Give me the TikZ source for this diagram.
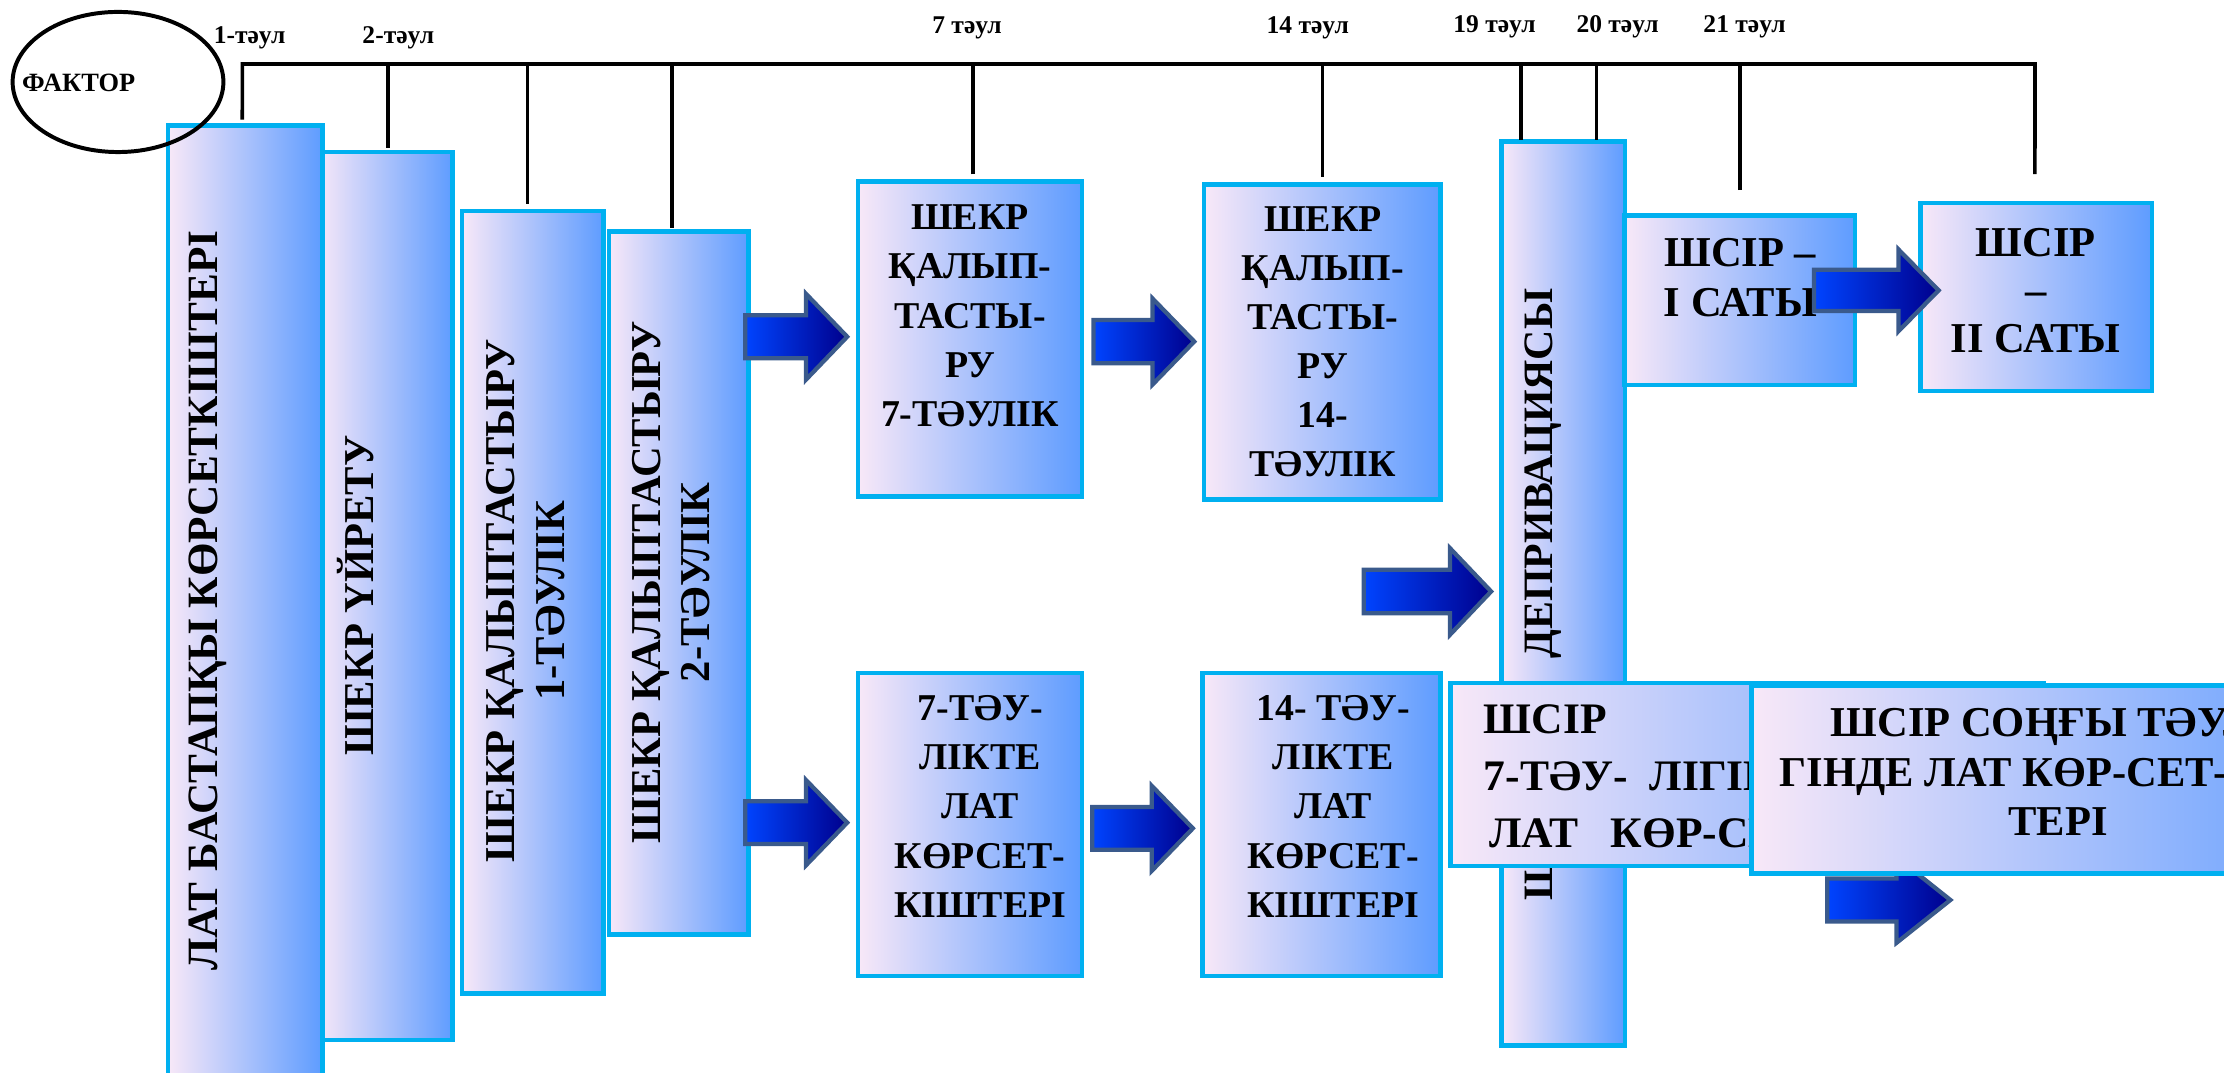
\documentclass[tikz,border=0pt]{standalone}
\usepackage{fontspec}
\setmainfont{Liberation Serif}
\usetikzlibrary{shapes.geometric}

\definecolor{panelL}{HTML}{F8E8F8}
\definecolor{panelR}{HTML}{5E9CFF}
\definecolor{panelB}{HTML}{00B0F0}
\definecolor{arrL}{HTML}{0044FF}
\definecolor{arrR}{HTML}{00008C}
\definecolor{arrB}{HTML}{3A5A8C}

\tikzset{
  panel/.style={shape=rectangle, draw=panelB, line width=3.3pt,
    left color=panelL, right color=panelR, inner sep=0pt, outer sep=0pt,
    anchor=north west},
  txt/.style={inner sep=0pt, outer sep=0pt, font=\bfseries, align=center},
  daylbl/.style={inner sep=0pt, anchor=base, font=\bfseries\fontsize{18}{20}\selectfont},
  tick/.style={line width=2.6pt, black},
  blk/.style={draw=arrB, line width=3pt, left color=arrL, right color=arrR,
    line join=miter},
}

% panel: name, outer left, outer top, outer right, outer bottom
\newcommand\panel[5]{%
  \node[panel, minimum width={#4-#2-3.3}, minimum height={#5-#3-3.3}]
    (#1) at ({#2+1.65},{#3+1.65}) {};}

% block arrow: left x, tip x, centre y, full height, head length
\newcommand\blockarrow[5]{%
  \path[blk]
    ({#1+1.5},{#3-0.24*#4}) -- ({#2-#5},{#3-0.24*#4}) --
    ({#2-#5},{#3-0.5*#4+1.5}) -- ({#2-2},{#3}) --
    ({#2-#5},{#3+0.5*#4-1.5}) -- ({#2-#5},{#3+0.24*#4}) --
    ({#1+1.5},{#3+0.24*#4}) -- cycle;}

\begin{document}
\begin{tikzpicture}[x=1pt, y=-1pt]
\useasboundingbox (0,0) rectangle (1568,756);
\clip (0,0) rectangle (1568,756);

% vertical stages on the left
\panel{b2}{222}{105.5}{320.9}{734.8}
\panel{b1}{116.8}{87}{228.9}{800}
\panel{b3}{324}{147}{427.1}{702}
\panel{b4}{427.7}{161.5}{529.4}{660.6}

% middle stages
\panel{b5}{603.3}{126.4}{764.4}{351.8}
\panel{b6}{847.2}{128.6}{1017.2}{353.7}
\panel{b7}{603.3}{472.8}{764.4}{689.7}
\panel{b8}{846.3}{472.8}{1017.2}{689.7}

% deprivation column with its text, then the stages lying over it
\panel{col}{1057}{98.3}{1147.3}{738.7}
\node[txt, rotate=90, anchor=north west, font=\bfseries\fontsize{29.5}{34}\selectfont]
  (colt) at (1075.2,634.6) {ШЕКР\hspace{79pt}ДЕПРИВАЦИЯСЫ};
\panel{b10}{1143.8}{150.4}{1309.4}{273.1}
\panel{b12}{1021}{479.9}{1442.2}{612.2}

% texts of the vertical stages
\node[txt, rotate=90, anchor=north, font=\bfseries\fontsize{30.5}{34}\selectfont]
  (b1t) at (133.5,423.5) {ЛАТ БАСТАПҚЫ КӨРСЕТКІШТЕРІ};
\node[txt, rotate=90, anchor=base, font=\bfseries\fontsize{30}{34}\selectfont]
  (b2t) at (263.2,420) {ШЕКР ҮЙРЕТУ};
\node[txt, rotate=90, anchor=north, font=\bfseries\fontsize{30}{35.4}\selectfont]
  (b3t) at (342.6,423.5) {ШЕКР ҚАЛЫПТАСТЫРУ\\1-ТӘУЛІК};
\node[txt, rotate=90, anchor=north, font=\bfseries\fontsize{30}{35}\selectfont]
  (b4t) at (445.6,410.5) {ШЕКР ҚАЛЫПТАСТЫРУ\\2-ТӘУЛІК};

% texts of the middle stages
\node[txt, anchor=north, font=\bfseries\fontsize{26.7}{34.7}\selectfont]
  (b5t) at (683.9,144.5) {ШЕКР\\ҚАЛЫП-\\ТАСТЫ-\\РУ\\7-ТӘУЛІК};
\node[txt, anchor=north, font=\bfseries\fontsize{26.7}{34.5}\selectfont]
  (b6t) at (932.7,145.7) {ШЕКР\\ҚАЛЫП-\\ТАСТЫ-\\РУ\\14-\\ТӘУЛІК};
\node[txt, anchor=north, font=\bfseries\fontsize{26.7}{34.8}\selectfont]
  (b7t) at (691,490) {7-ТӘУ-\\ЛІКТЕ\\ЛАТ\\КӨРСЕТ-\\КІШТЕРІ};
\node[txt, anchor=north, font=\bfseries\fontsize{26.7}{34.8}\selectfont]
  (b8t) at (940,490) {14- ТӘУ-\\ЛІКТЕ\\ЛАТ\\КӨРСЕТ-\\КІШТЕРІ};

% right-hand texts
\node[txt, anchor=north, font=\bfseries\fontsize{30}{35.3}\selectfont]
  (b10t) at (1227,168) {ШСІР –\\І САТЫ};
\node[txt, anchor=north west, align=left, font=\bfseries\fontsize{30.7}{40}\selectfont]
  (b12t) at (1046.2,497) {ШСІР\\7-ТӘУ-\ \ ЛІГІНДЕ\\\hspace{3.6pt}ЛАТ\ \ \ КӨР-СЕТКІШТЕРІ};

% arrows between stages
\blockarrow{524}{599.3}{237.4}{63.4}{31}
\blockarrow{524}{599.3}{580}{63}{31}
\blockarrow{769.5}{844}{240.8}{63.6}{31.4}
\blockarrow{768.5}{843}{584}{63}{31}
\blockarrow{960}{1053.3}{417}{64}{31}
\blockarrow{1286.7}{1377.1}{634.5}{63.4}{40}

% last stages
\panel{b13}{1233.2}{481.8}{1669}{617.6}
\node[txt, anchor=north, font=\bfseries\fontsize{30}{35}\selectfont]
  (b13t) at (1451,499.4) {ШСІР СОҢҒЫ ТӘУЛІ-\\ГІНДЕ ЛАТ КӨР-СЕТ-КІШ-\\ТЕРІ};
\panel{b11}{1352.2}{141.5}{1518.9}{277.3}
\node[txt, anchor=north, font=\bfseries\fontsize{30}{34}\selectfont]
  (b11t) at (1435.2,161) {ШСІР\\–\\ІІ САТЫ};
\blockarrow{1277.4}{1368.8}{204.7}{60.6}{30.3}

% factor and the day scale
\node[draw, ellipse, line width=2.8pt, minimum width=148.6, minimum height=98.8,
  inner sep=0pt] (factor) at (83.2,57.8) {};
\node[inner sep=0pt, anchor=base west, font=\bfseries\fontsize{18.6}{20}\selectfont]
  (factort) at (15.4,64.6) {ФАКТОР};

\coordinate (barL) at (170.9,45.1);
\coordinate (barR) at (1434.7,45.1);
\draw[tick] ([xshift=-2pt,yshift=4.3pt]b1.north) -- (barL) -- (barR)
  -- ([xshift=-0.9pt,yshift=20.4pt]b11.north);
\draw[tick] ([xshift=1.9pt,yshift=3.1pt]b2.north) -- ([xshift=1.9pt]b2.north |- barL);
\draw[tick] ([xshift=-3.75pt,yshift=4.85pt]b3.north) -- ([xshift=-3.75pt]b3.north |- barL);
\draw[tick] ([xshift=-4.55pt,yshift=2.65pt]b4.north) -- ([xshift=-4.55pt]b4.north |- barL);
\draw[tick] ([xshift=2.35pt,yshift=5.15pt]b5.north) -- ([xshift=2.35pt]b5.north |- barL);
\draw[tick] ([xshift=0.1pt,yshift=5.65pt]b6.north) -- ([xshift=0.1pt]b6.north |- barL);
\draw[tick] ([xshift=-29.85pt,yshift=1.5pt]col.north) -- ([xshift=-29.85pt]col.north |- barL);
\draw[tick] ([xshift=23.45pt,yshift=1.5pt]col.north) -- ([xshift=23.45pt]col.north |- barL);
\draw[tick] ([xshift=0.3pt,yshift=18pt]b10.north) -- ([xshift=0.3pt]b10.north |- barL);

\node[daylbl] (d1) at (176,30.5) {1-тәул};
\node[daylbl] (d2) at (280.8,30.5) {2-тәул};
\node[daylbl] (d7) at (681.8,23.5) {7 тәул};
\node[daylbl] (d14) at (922,23.5) {14 тәул};
\node[daylbl] (d19) at (1053.7,22.8) {19 тәул};
\node[daylbl] (d20) at (1140.5,22.8) {20 тәул};
\node[daylbl] (d21) at (1230,22.8) {21 тәул};
\end{tikzpicture}
\end{document}
